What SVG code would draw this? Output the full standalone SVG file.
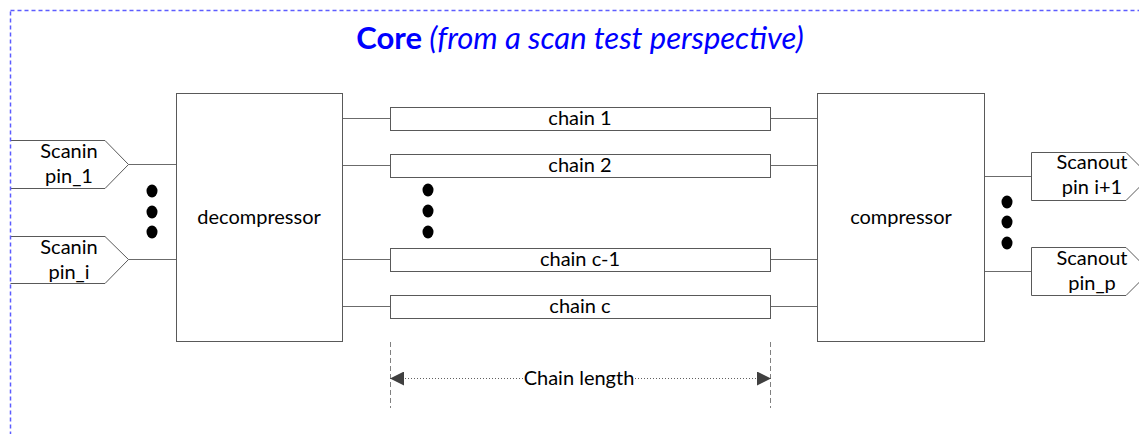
<svg xmlns="http://www.w3.org/2000/svg" width="1139" height="434" viewBox="0 0 1139 434">
  <defs>
    <style>
      .box { fill: #ffffff; stroke: #595959; stroke-width: 1; }
      .wire { fill: none; stroke: #6b6b6b; stroke-width: 1; }
      .lbl { font-family: Lato, "Liberation Sans", sans-serif; font-size: 20px; fill: #000000; text-anchor: middle; }
      .dot { fill: #000000; }
      .guide { stroke: #808080; stroke-width: 1; stroke-dasharray: 5 3; }
      .measure { stroke: #606060; stroke-width: 1; stroke-dasharray: 1 2; }
    </style>
    <marker id="arrowL" markerWidth="14" markerHeight="14" refX="0" refY="7" orient="auto" markerUnits="userSpaceOnUse">
      <polygon points="0,7 14,0 14,14" fill="#404040"/>
    </marker>
    <marker id="arrowR" markerWidth="14" markerHeight="14" refX="14" refY="7" orient="auto" markerUnits="userSpaceOnUse">
      <polygon points="14,7 0,0 0,14" fill="#404040"/>
    </marker>
  </defs>

  <rect x="0" y="0" width="1139" height="434" fill="#ffffff"/>

  <!-- title -->
  <text x="580" y="49" font-family="Lato, 'Liberation Sans', sans-serif" font-size="31" fill="#0000ff" text-anchor="middle"><tspan font-weight="bold">Core</tspan><tspan font-style="italic"> (from a scan test perspective)</tspan></text>

  <!-- connectors -->
  <g id="connectors">
    <line class="wire" x1="128.5" y1="164.5" x2="176.5" y2="164.5"/>
    <line class="wire" x1="128.5" y1="259.5" x2="176.5" y2="259.5"/>
    <line class="wire" x1="342.5" y1="118.5" x2="390.5" y2="118.5"/>
    <line class="wire" x1="342.5" y1="165.5" x2="390.5" y2="165.5"/>
    <line class="wire" x1="342.5" y1="259.5" x2="390.5" y2="259.5"/>
    <line class="wire" x1="342.5" y1="306.5" x2="390.5" y2="306.5"/>
    <line class="wire" x1="770.5" y1="118.5" x2="817.5" y2="118.5"/>
    <line class="wire" x1="770.5" y1="165.5" x2="817.5" y2="165.5"/>
    <line class="wire" x1="770.5" y1="259.5" x2="817.5" y2="259.5"/>
    <line class="wire" x1="770.5" y1="306.5" x2="817.5" y2="306.5"/>
    <line class="wire" x1="984.5" y1="176.5" x2="1031.5" y2="176.5"/>
    <line class="wire" x1="984.5" y1="271.5" x2="1031.5" y2="271.5"/>
  </g>

  <!-- scan inputs -->
  <g id="scanin-1">
    <path class="box" d="M10.5,140.5 H105 L128.5,164.5 L105,188.5 H10.5"/>
    <text class="lbl" x="69" y="158">Scanin</text>
    <text class="lbl" x="69" y="183">pin_1</text>
  </g>
  <g id="scanin-i">
    <path class="box" d="M10.5,236.5 H105 L128.5,259.5 L105,283.5 H10.5"/>
    <text class="lbl" x="69" y="254">Scanin</text>
    <text class="lbl" x="69" y="279">pin_i</text>
  </g>
  <g id="scanin-dots">
    <ellipse class="dot" cx="152" cy="191" rx="5.5" ry="6.5"/>
    <ellipse class="dot" cx="152" cy="212" rx="5.5" ry="6.5"/>
    <ellipse class="dot" cx="152" cy="232" rx="5.5" ry="6.5"/>
  </g>

  <!-- decompressor -->
  <g id="decompressor">
    <rect class="box" x="176.5" y="93.5" width="166" height="248"/>
    <text class="lbl" x="259" y="224">decompressor</text>
  </g>

  <!-- scan chains -->
  <g id="chain-1">
    <rect class="box" x="390.5" y="107.5" width="380" height="23"/>
    <text class="lbl" x="580" y="125">chain 1</text>
  </g>
  <g id="chain-2">
    <rect class="box" x="390.5" y="154.5" width="380" height="23"/>
    <text class="lbl" x="580" y="172">chain 2</text>
  </g>
  <g id="chain-dots">
    <ellipse class="dot" cx="428" cy="190" rx="5.5" ry="6.5"/>
    <ellipse class="dot" cx="428" cy="211" rx="5.5" ry="6.5"/>
    <ellipse class="dot" cx="428" cy="232" rx="5.5" ry="6.5"/>
  </g>
  <g id="chain-c-1">
    <rect class="box" x="390.5" y="248.5" width="380" height="23"/>
    <text class="lbl" x="580" y="266">chain c-1</text>
  </g>
  <g id="chain-c">
    <rect class="box" x="390.5" y="295.5" width="380" height="23"/>
    <text class="lbl" x="580" y="313">chain c</text>
  </g>

  <!-- compressor -->
  <g id="compressor">
    <rect class="box" x="817.5" y="93.5" width="167" height="248"/>
    <text class="lbl" x="901" y="224">compressor</text>
  </g>

  <!-- scan outputs -->
  <g id="scanout-i1">
    <path class="box" d="M1031.5,152.5 H1126 L1150,176.5 L1126,200.5 H1031.5 Z"/>
    <text class="lbl" x="1092" y="169">Scanout</text>
    <text class="lbl" x="1092" y="194">pin i+1</text>
  </g>
  <g id="scanout-p">
    <path class="box" d="M1031.5,247.5 H1126 L1150,271.5 L1126,295.5 H1031.5 Z"/>
    <text class="lbl" x="1092" y="265">Scanout</text>
    <text class="lbl" x="1092" y="290">pin_p</text>
  </g>
  <g id="scanout-dots">
    <ellipse class="dot" cx="1007" cy="202" rx="5.5" ry="6.5"/>
    <ellipse class="dot" cx="1007" cy="222" rx="5.5" ry="6.5"/>
    <ellipse class="dot" cx="1007" cy="243" rx="5.5" ry="6.5"/>
  </g>

  <!-- chain length dimension -->
  <g id="chain-length">
    <line class="guide" x1="390.5" y1="342" x2="390.5" y2="408"/>
    <line class="guide" x1="770.5" y1="342" x2="770.5" y2="408"/>
    <line class="measure" x1="390" y1="378.5" x2="523" y2="378.5" marker-start="url(#arrowL)"/>
    <line class="measure" x1="635" y1="378.5" x2="771" y2="378.5" marker-end="url(#arrowR)"/>
    <text class="lbl" x="579" y="385">Chain length</text>
  </g>

  <!-- core boundary -->
  <rect x="10.5" y="10.5" width="1200" height="500" fill="none" stroke="#5c5cff" stroke-width="1.5" stroke-dasharray="4 3"/>
</svg>
